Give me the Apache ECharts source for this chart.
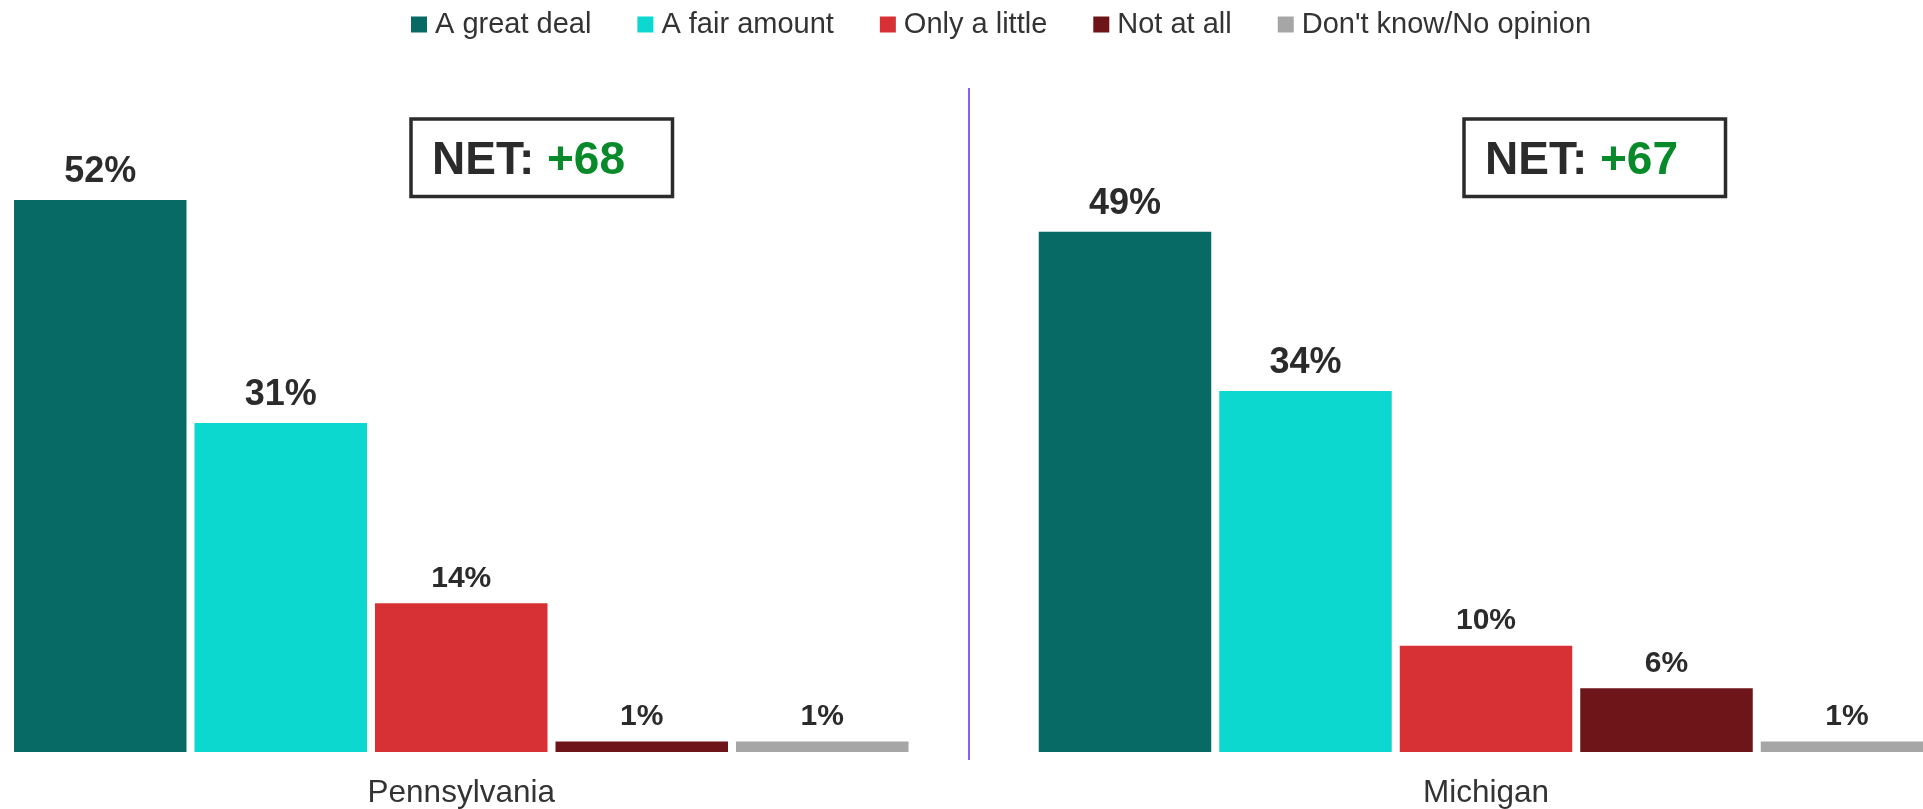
<!DOCTYPE html>
<html>
<head>
<meta charset="utf-8">
<script src="https://cdn.jsdelivr.net/npm/echarts@6/dist/echarts.min.js"></script>
<style>
html,body{margin:0;padding:0;background:#fff;}
#chart{width:1923px;height:809px;}
</style>
</head>
<body>
<div id="chart"></div>
<script>
// ---- data ----
const categories = ['Pennsylvania', 'Michigan'];
const seriesNames = ['A great deal', 'A fair amount', 'Only a little', 'Not at all', "Don't know/No opinion"];
const greatDeal = [52, 49];
const fairAmount = [31, 34];
const onlyLittle = [14, 10];
const notAtAll = [1, 6];
const dontKnow = [1, 1];
const netScores = ['+68', '+67'];

const seriesValues = [greatDeal, fairAmount, onlyLittle, notAtAll, dontKnow];
const colors = ['#076A64', '#0DD8CF', '#D73035', '#6E1519', '#A6A6A6'];
const labelSizes = [36, 36, 30, 30, 30];
const FONT = 'Arial, "Liberation Sans", sans-serif';

const chart = echarts.init(document.getElementById('chart'), null, {renderer: 'canvas'});

const grids = [
  {left: 14, width: 894.5, top: 115, bottom: 56},
  {left: 1049, right: 0, top: 115, bottom: 56}
];

const xAxes = categories.map((c, i) => ({
  type: 'category', gridIndex: i, data: [c],
  axisLine: {show: false}, axisTick: {show: false},
  axisLabel: {fontSize: 31.5, color: '#333', fontFamily: FONT, margin: 25}
}));
const yAxes = categories.map((c, i) => ({
  type: 'value', gridIndex: i, min: 0, max: 60, show: false, splitLine: {show: false}
}));

const series = [];
categories.forEach((c, gi) => {
  seriesNames.forEach((name, si) => {
    series.push({
      type: 'bar', name: name, xAxisIndex: gi, yAxisIndex: gi,
      data: [seriesValues[si][gi]],
      itemStyle: {color: colors[si]},
      barWidth: 172.5, barGap: '4.64%', barCategoryGap: '0%',
      clip: false,
      label: {
        show: true, position: 'top', distance: 10,
        formatter: '{c}%', fontSize: labelSizes[si], fontWeight: 'bold',
        color: '#2B2B2B', fontFamily: FONT
      }
    });
  });
});

function netBox(x, y, score) {
  return {
    type: 'group', x: x, y: y,
    children: [
      {type: 'rect', shape: {x: 0, y: 0, width: 261.5, height: 77.5},
       style: {fill: '#fff', stroke: '#2B2B2B', lineWidth: 3.5}},
      {type: 'text', x: 21, y: 42,
       style: {
         text: '{a|NET: }{b|' + score + '}',
         verticalAlign: 'middle', align: 'left',
         rich: {
           a: {fontSize: 46, fontWeight: 'bold', fill: '#2B2B2B', fontFamily: FONT},
           b: {fontSize: 46, fontWeight: 'bold', fill: '#088A2B', fontFamily: FONT}
         }
       }}
    ]
  };
}

chart.setOption({
  animation: false,
  backgroundColor: '#fff',
  legend: {
    data: seriesNames, left: 406, top: 5,
    itemWidth: 16, itemHeight: 16, itemGap: 46, icon: 'rect',
    textStyle: {fontSize: 29, color: '#333', fontFamily: FONT, padding: [0, 0, 0, 3]}
  },
  grid: grids,
  xAxis: xAxes,
  yAxis: yAxes,
  series: series,
  graphic: [
    netBox(411, 119, netScores[0]),
    netBox(1464, 119, netScores[1]),
    {type: 'line', shape: {x1: 969, y1: 88, x2: 969, y2: 760},
     style: {stroke: '#8B5CF6', lineWidth: 2}}
  ]
});
</script>
</body>
</html>
